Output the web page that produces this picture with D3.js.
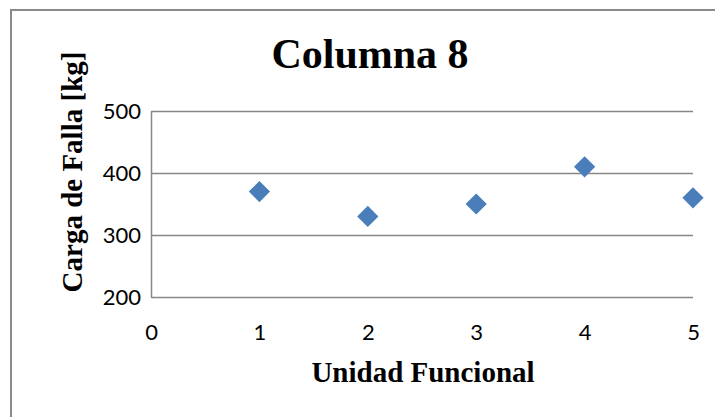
<!DOCTYPE html>
<html>
<head>
<meta charset="utf-8">
<script src="https://cdn.jsdelivr.net/npm/d3@7"></script>
<style>
  html, body { margin: 0; padding: 0; background: #fff; }
  svg { display: block; }
</style>
</head>
<body>
<svg id="chart" width="715" height="417"></svg>
<script>
// Series: failure load per functional unit
const unidades = [1, 2, 3, 4, 5];
const cargas = [370, 330, 350, 410, 360];
const xTicks = [0, 1, 2, 3, 4, 5];
const yTicks = [200, 300, 400, 500];
const titulo = "Columna 8";
const xTitulo = "Unidad Funcional";
const yTitulo = "Carga de Falla [kg]";

const svg = d3.select("#chart");
const plot = { left: 151, right: 693, top: 111, bottom: 297 };

const x = d3.scaleLinear().domain([0, 5]).range([plot.left, plot.right]);
const y = d3.scaleLinear().domain([200, 500]).range([plot.bottom, plot.top]);

const serif = "'Liberation Serif', 'Times New Roman', serif";
const sans = "Lato, 'Open Sans', 'Liberation Sans', sans-serif";
const gridColor = "#878787";

// Outer chart frame
svg.append("rect")
  .attr("x", 11).attr("y", 10)
  .attr("width", 800).attr("height", 500)
  .attr("fill", "none").attr("stroke", "#8a8a8a").attr("stroke-width", 2);

// Horizontal gridlines
svg.append("g")
  .attr("transform", `translate(${plot.left},0)`)
  .call(d3.axisLeft(y).tickValues(yTicks).tickSize(-(plot.right - plot.left)).tickFormat(""))
  .call(g => g.select(".domain").remove())
  .call(g => g.selectAll("line").attr("stroke", gridColor).attr("stroke-width", 1.5));

// Y axis line and labels
svg.append("g")
  .attr("transform", `translate(${plot.left},0)`)
  .call(d3.axisLeft(y).tickValues(yTicks).tickSize(0).tickPadding(10).tickFormat(d3.format("d")))
  .call(g => g.select(".domain").attr("stroke", gridColor).attr("stroke-width", 1.5))
  .call(g => g.selectAll("text").attr("font-family", sans).attr("font-size", 22).attr("fill", "#000"));

// X axis labels (no line)
svg.append("g")
  .attr("transform", `translate(0,${plot.bottom})`)
  .call(d3.axisBottom(x).tickValues(xTicks).tickSize(0).tickPadding(27).tickFormat(d3.format("d")))
  .call(g => g.select(".domain").remove())
  .call(g => g.selectAll("text").attr("font-family", sans).attr("font-size", 22).attr("fill", "#000"));

// Diamond markers
const diamond = d3.symbol().type(d3.symbolSquare).size(225);
svg.append("g").selectAll("path")
  .data(unidades.map((u, i) => ({ u, c: cargas[i] })))
  .join("path")
  .attr("d", diamond)
  .attr("transform", d => `translate(${x(d.u)},${y(d.c)}) rotate(45)`)
  .attr("fill", "#4a7ebb");

// Titles
svg.append("text")
  .attr("x", 370).attr("y", 68)
  .attr("text-anchor", "middle")
  .attr("font-family", serif).attr("font-weight", "bold").attr("font-size", 42)
  .text(titulo);

svg.append("text")
  .attr("x", 423).attr("y", 382)
  .attr("text-anchor", "middle")
  .attr("font-family", serif).attr("font-weight", "bold").attr("font-size", 29)
  .text(xTitulo);

svg.append("text")
  .attr("transform", "translate(82,172) rotate(-90)")
  .attr("text-anchor", "middle")
  .attr("font-family", serif).attr("font-weight", "bold").attr("font-size", 29)
  .text(yTitulo);
</script>
</body>
</html>
